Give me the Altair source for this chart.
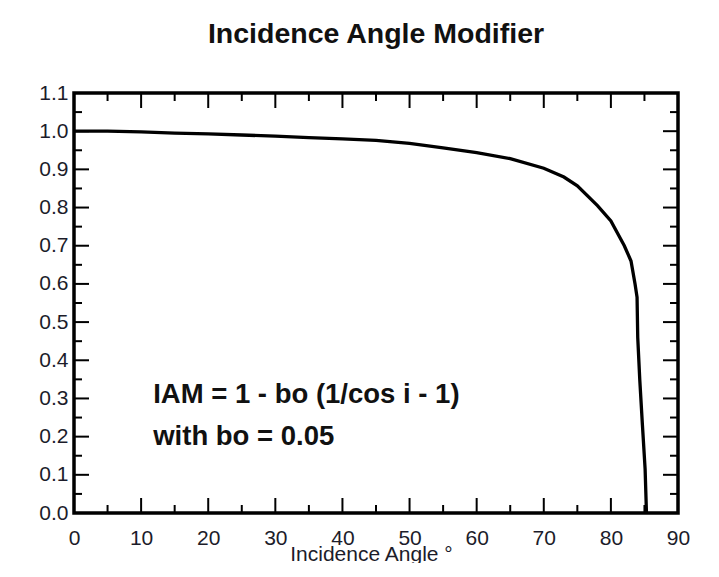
import altair as alt
import pandas as pd

# Curve
angle = [0, 5, 10, 15, 20, 25, 30, 35, 40, 45, 50, 55, 60, 65, 70, 73, 75, 78, 80, 82, 83, 83.6, 83.9, 84.0, 84.3, 84.7, 85.1, 85.3]
iam = [1.0, 1.0, 0.998, 0.995, 0.993, 0.990, 0.987, 0.983, 0.980, 0.976, 0.968, 0.956, 0.944, 0.928, 0.903, 0.880, 0.857, 0.805, 0.765, 0.700, 0.660, 0.600, 0.565, 0.46, 0.35, 0.23, 0.115, 0.0]

x_labels = [0, 10, 20, 30, 40, 50, 60, 70, 80, 90]
y_labels = [0.0, 0.1, 0.2, 0.3, 0.4, 0.5, 0.6, 0.7, 0.8, 0.9, 1.0, 1.1]
x_major_inner = [10, 20, 30, 40, 50, 60, 70, 80]
x_minor = [5, 15, 25, 35, 45, 55, 65, 75, 85]
y_major_inner = [0.1, 0.2, 0.3, 0.4, 0.5, 0.6, 0.7, 0.8, 0.9, 1.0]
y_minor = [0.05, 0.15, 0.25, 0.35, 0.45, 0.55, 0.65, 0.75, 0.85, 0.95, 1.05]

ann_lines = ["IAM = 1 - bo (1/cos i - 1)", "with bo = 0.05"]
ann_x = [11.8, 11.8]
ann_y = [0.289, 0.177]

W, H = 604, 420
MAJ, MIN = 15, 8
FONT = "Liberation Sans"
LBL = "#1c1c2a"

xs = alt.Scale(domain=[0, 90], nice=False, zero=False)
ys = alt.Scale(domain=[0, 1.1], nice=False, zero=False)

x_axis = alt.Axis(values=x_labels, tickSize=0, domain=False, grid=False,
                  labelFont=FONT, labelFontSize=21, labelColor=LBL,
                  labelPadding=14, labelFlush=False, title="Incidence Angle °",
                  titleFont=FONT, titleFontSize=21, titleFontWeight="normal",
                  titleColor=LBL, titleX=297, titleY=47,
                  titleBaseline="alphabetic", titleAlign="center")
y_axis = alt.Axis(values=y_labels, format=".1f", tickSize=0, domain=False, grid=False,
                  labelFont=FONT, labelFontSize=21, labelColor=LBL,
                  labelPadding=6, labelFlush=False, title=None)

curve_df = pd.DataFrame({"angle": angle, "iam": iam})

line = alt.Chart(curve_df).mark_line(color="black", strokeWidth=3.3).encode(
    x=alt.X("angle:Q", scale=xs, axis=x_axis),
    y=alt.Y("iam:Q", scale=ys, axis=y_axis),
)

def xticks(vals, length, top):
    df = pd.DataFrame({"v": vals})
    y0, y1 = (0, length) if top else (H, H - length)
    return alt.Chart(df).mark_rule(color="black", strokeWidth=2).encode(
        x=alt.X("v:Q", scale=xs, axis=x_axis),
        y=alt.value(y0), y2=alt.value(y1))

def yticks(vals, length, right):
    df = pd.DataFrame({"v": vals})
    x0, x1 = (W, W - length) if right else (0, length)
    return alt.Chart(df).mark_rule(color="black", strokeWidth=2).encode(
        y=alt.Y("v:Q", scale=ys, axis=y_axis),
        x=alt.value(x0), x2=alt.value(x1))

ticks = [
    xticks(x_major_inner, MAJ, False), xticks(x_minor, MIN, False),
    xticks(x_major_inner, MAJ, True), xticks(x_minor, MIN, True),
    yticks(y_major_inner, MAJ, False), yticks(y_minor, MIN, False),
    yticks(y_major_inner, MAJ, True), yticks(y_minor, MIN, True),
]

ann_df = pd.DataFrame({"t": ann_lines, "x": ann_x, "y": ann_y})
ann = alt.Chart(ann_df).mark_text(font=FONT, fontSize=27.5, fontWeight="bold",
                                   align="left", baseline="alphabetic", color="#111").encode(
    x=alt.X("x:Q", scale=xs, axis=x_axis),
    y=alt.Y("y:Q", scale=ys, axis=y_axis),
    text="t:N")

chart = alt.layer(line, *ticks, ann).properties(
    width=W, height=H,
    background="white",
    title=alt.TitleParams("Incidence Angle Modifier", font=FONT, fontSize=28.5,
                          fontWeight="bold", color="#111", anchor="middle", offset=34),
    autosize=alt.AutoSizeParams(type="none"),
    padding={"left": 66, "top": 85, "right": 30, "bottom": 50},
).configure_view(stroke="black", strokeWidth=3.5)

chart.save("out.html", embed_options={"renderer": "svg", "actions": False})
